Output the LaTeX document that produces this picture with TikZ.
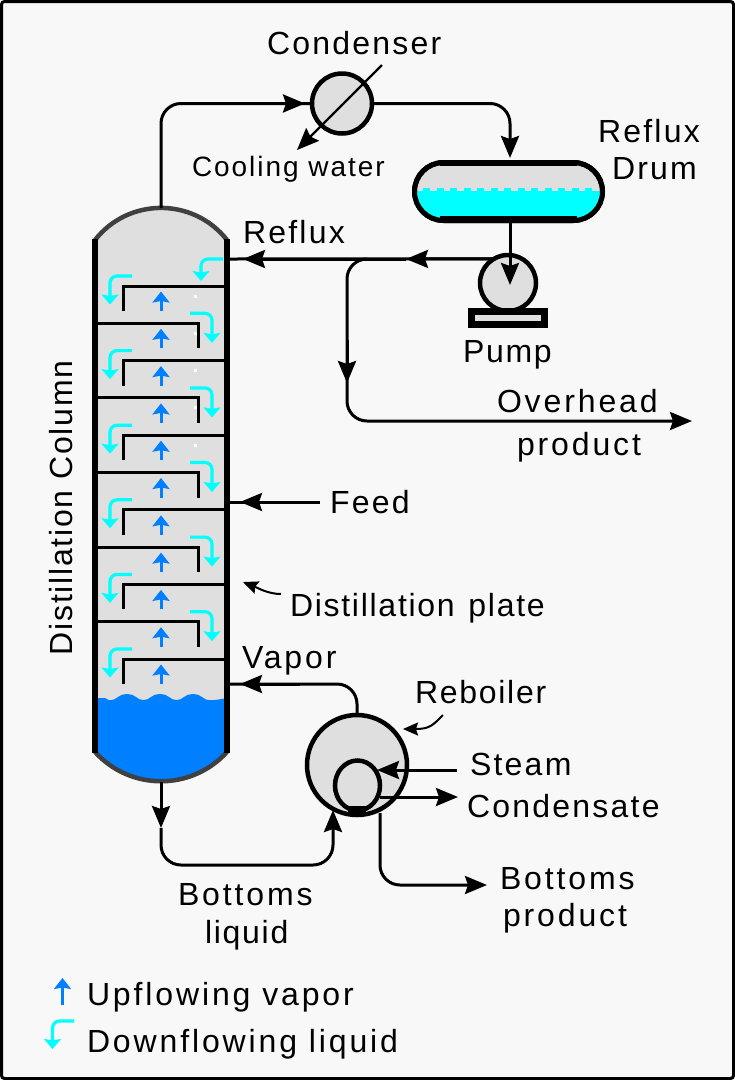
\documentclass[tikz,border=0pt]{standalone}
\usepackage{fontspec}
\setmainfont[LetterSpace=7]{Liberation Sans}
\newfontface\tightface[LetterSpace=5.4]{Liberation Sans}
\newfontface\wideface[LetterSpace=9]{Liberation Sans}
\usetikzlibrary{arrows.meta,calc,shapes.geometric}
\definecolor{bgc}{HTML}{F8F8F8}
\definecolor{grayc}{HTML}{DFDFDF}
\definecolor{bluec}{HTML}{0080FF}
\definecolor{cyanc}{HTML}{00FFFF}
\definecolor{domec}{HTML}{404040}
\tikzset{
  lab/.style={anchor=base west,inner sep=0pt,outer sep=0pt,font=\fontsize{32}{37}\selectfont,text=black},
  tightlab/.style={lab,font=\fontsize{32}{37}\tightface},
  widelab/.style={lab,font=\fontsize{32}{37}\wideface},
  smalllab/.style={lab,font=\fontsize{28}{32}\selectfont},
  equip/.style={draw=black,line width=4.5pt,fill=grayc,circle,inner sep=0pt,outer sep=0pt},
  pipe/.style={draw=black,line width=3pt,rounded corners=20pt},
  pipehead/.style={pipe,-{Stealth[length=22pt,width=18pt,inset=3pt]}},
  thinhead/.style={draw=black,line width=2pt,-{Stealth[length=15pt,width=13pt,inset=2pt]}},
  plateline/.style={draw=black,line width=3pt,line cap=butt},
  upflow/.style={draw=bluec,line width=3pt,-{Stealth[length=11pt,width=17pt,inset=1.5pt]}},
  downflow/.style={draw=cyanc,line width=3.2pt,rounded corners=7pt,-{Stealth[length=10pt,width=17pt,inset=1.5pt]}}
}
\begin{document}
\begin{tikzpicture}[x=1pt,y=-1pt]
\useasboundingbox (0,0) rectangle (735,1080);
\fill[bgc] (0,0) rectangle (735,1080);
\draw[black,line width=3pt,rounded corners=3pt] (1.5,1.5) rectangle (733.5,1078.5);

% column body
\fill[grayc] (95,240) .. controls (128.6,197.2) and (193.4,197.2) .. (227,240) -- (227,752)
  .. controls (191.5,791) and (130.5,791) .. (95,752) -- cycle;
\fill[bluec] (95,698) -- (105,698) .. controls (110,702) and (114,700) .. (118,697)
  .. controls (122,693) and (132,693) .. (136,697) .. controls (140,701) and (147,701) .. (151,697)
  .. controls (155,693) and (165,693) .. (169,697) .. controls (173,701) and (180,701) .. (184,697)
  .. controls (188,693) and (198,693) .. (202,697) .. controls (206,701) and (212,701) .. (227,698)
  -- (227,752) .. controls (191.5,791) and (130.5,791) .. (95,752) -- cycle;
\draw[domec,line width=4.5pt] (95,240) .. controls (128.6,197.2) and (193.4,197.2) .. (227,240);
\draw[domec,line width=4.5pt] (95,752) .. controls (130.5,791) and (191.5,791) .. (227,752);
\draw[black,line width=6pt] (95,239) -- (95,753);
\draw[black,line width=6pt] (227,239) -- (227,753);
\node[inner sep=0pt,outer sep=0pt,minimum width=138pt,minimum height=574pt] (column) at (161,495) {};

% odd plates: from right wall, downcomer at left; even plates: from left wall, downcomer at right
\foreach \py in {286,360.6,435.2,509.8,584.4,659}{
  \draw[plateline] (224,\py) -- (123,\py) -- (123,\py+25);
  \draw[upflow] (161,\py+25) -- (161,\py+5.5);
}
\foreach \py in {323.3,397.9,472.5,547.1,621.7}{
  \draw[plateline] (98,\py) -- (198,\py) -- (198,\py+25);
  \draw[upflow] (161,\py+25) -- (161,\py+5.5);
  \draw[downflow] (190,\py-10) -- (212,\py-10) -- (212,\py+19.5);
}
\foreach \py in {286,360.6,435.2,509.8,584.4,659}{
  \draw[downflow] (132,\py-10) -- (110,\py-10) -- (110,\py+18.5);
}
\draw[downflow] (223,259) -- (201,259) -- (201,281);
\foreach \wy in {296,333.3,370.6,407.9,445.2}{
  \fill[white] (193.5,\wy-1.5) rectangle (196.5,\wy+1.5);
}

% drum
\node[draw=black,line width=5pt,fill=grayc,rounded corners=29pt,minimum width=188pt,minimum height=58pt,inner sep=0pt,outer sep=0pt] (drum) at (508.5,191.5) {};
\begin{scope}
  \clip[rounded corners=29pt] (drum.south west) rectangle (drum.north east);
  \fill[cyanc] (410,191) rectangle (610,225);
  \foreach \cx in {423,436.5,450,463.5,477,490.5,504,517.5,531,544.5,558,571.5,585}{
    \fill[cyanc] (\cx,188) rectangle ++(7,3.5);
  }
\end{scope}
\draw[black,line width=5pt,rounded corners=29pt] (drum.south west) rectangle (drum.north east);
\draw[black,line width=6pt] (440,163) -- (577,163);
\draw[black,line width=7pt] (440,219.5) -- (577,219.5);

% pump
\node[equip,minimum size=56pt] (pump) at (508,283) {};
\node[draw=black,line width=7pt,fill=grayc,minimum width=73pt,minimum height=13pt,inner sep=0pt,outer sep=0pt] (pumpbase) at (508,318) {};

% condenser
\node[equip,minimum size=60pt] (condenser) at (342,103.5) {};
\coordinate (coolin) at (382,65);
\coordinate (coolout) at (297,150);
\draw[black,line width=2.4pt,-{Stealth[length=22pt,width=18pt,inset=3pt]}] (coolin) -- (coolout);

% reboiler
\node[equip,minimum size=100pt] (reboiler) at (357,765) {};
\node[equip,shape=ellipse,minimum width=45pt,minimum height=50pt] (tube) at (357.5,785.5) {};
\fill[black] (348,806) rectangle (366,815);

% connectors
\coordinate (c1) at (305,103.5);
\coordinate (c1b) at (270,103.5);
\draw[pipe] (column.north) |- (condenser.west);
\draw[pipehead,rounded corners=0pt] (c1b) -- (c1);
\coordinate (d1) at (510,158);
\draw[pipehead] (condenser.east) -| (d1);
\draw[pipe] (drum.south -| d1) -- (510,253);
\coordinate (pumptip) at (510,285);
\draw[pipehead,rounded corners=0pt] (510,223) -- (pumptip);

\coordinate (reflA) at (406,259);
\coordinate (reflB) at (243,259);
\coordinate (reflW) at (230,259);
\draw[pipe] (pump.120) -- (reflW);
\draw[pipehead,rounded corners=0pt] (pump.120) -- (reflA);
\draw[pipehead,rounded corners=0pt] (reflA) -- (reflB);

\coordinate (ovtop) at (366,259);
\coordinate (ovtip) at (347,383);
\coordinate (ovend) at (692,421);
\draw[pipe] (ovtop) -| (ovtip);
\draw[pipehead,rounded corners=0pt] (347,340) -- (ovtip);
\draw[pipehead] (ovtip) |- (ovend);

\coordinate (feedtip) at (240,502);
\coordinate (feedw) at (230,502);
\coordinate (feedfrom) at (320,502);
\draw[pipe] (feedfrom) -- (feedw);
\draw[pipehead,rounded corners=0pt] (feedfrom) -- (feedtip);

\coordinate (vapw) at (230,684);
\coordinate (vaptip) at (240,684);
\draw[pipe] (reboiler.north) |- (vapw);
\draw[pipehead,rounded corners=0pt] (300,684) -- (vaptip);

\coordinate (plfrom) at (281,594);
\coordinate (pltip) at (243,582);
\draw[thinhead] (plfrom) .. controls (268,594) and (258,588) .. (pltip);
\coordinate (rbfrom) at (443,715);
\coordinate (rbtip) at (403,729);
\draw[thinhead] (rbfrom) .. controls (433,725) and (430,729) .. (rbtip);

\coordinate (steamfrom) at (457,770);
\coordinate (steamtip) at (377,770);
\draw[pipehead,rounded corners=0pt] (steamfrom) -- (steamtip);
\coordinate (condfrom) at (380,797);
\coordinate (condtip) at (458,797);
\draw[pipehead,rounded corners=0pt] (condfrom) -- (condtip);

\coordinate (bl1) at (161,828);
\draw[pipehead,rounded corners=0pt] (column.south) -- (bl1);
\coordinate (bl2) at (333,810);
\draw[pipehead] (bl1) |- (333,865) -- (bl2);
\coordinate (bpfrom) at (380,813);
\coordinate (bptip) at (487,885);
\draw[pipehead] (bpfrom) |- (bptip);

% labels
\node[lab] (lcond) at (267,54) {Condenser};
\node[smalllab] (lcool) at (192,176) {Cooling water};
\node[lab] (lreflux1) at (598,142) {Reflux};
\node[lab] (ldrum) at (612,179) {Drum};
\node[lab] (lreflux2) at (243,243) {Reflux};
\node[tightlab] (lpump) at (463,362) {Pump};
\node[widelab] (lover) at (497,412) {Overhead};
\node[widelab] (lprod1) at (517,455) {product};
\node[lab] (lfeed) at (330,513) {Feed};
\node[tightlab] (lplate) at (290,616) {Distillation\hspace{3pt} plate};
\node[widelab] (lvapor) at (242,668) {Vapor};
\node[tightlab] (lreb) at (415,703) {Reboiler};
\node[lab] (lsteam) at (470,775) {Steam};
\node[lab] (lcondens) at (467,817) {Condensate};
\node[widelab] (lbot1) at (178,905) {Bottoms};
\node[tightlab] (lliq) at (205,943) {liquid};
\node[widelab] (lbot2) at (500,889) {Bottoms};
\node[widelab] (lprod2) at (503,926) {product};
\node[tightlab,rotate=90] (lcol) at (72,655) {Distillation Column};
\node[widelab] (lup) at (87,1005) {Upflowing vapor};
\node[widelab] (ldown) at (87,1052) {Downflowing liquid};
\coordinate (legup1) at (62.5,1005);
\coordinate (legup2) at (62.5,978);
\draw[upflow] (legup1) -- (legup2);
\coordinate (legd1) at (74,1021);
\coordinate (legd2) at (52.5,1049);
\draw[downflow] (legd1) -| (legd2);
\end{tikzpicture}
\end{document}
